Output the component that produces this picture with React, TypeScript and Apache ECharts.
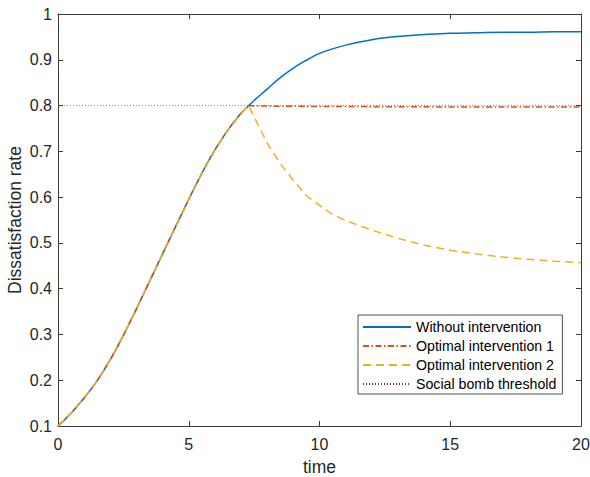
import React, { useEffect, useRef } from "react";
import * as echarts from "echarts";

// ---- data ----
const seriesNames = [
  "Without intervention",
  "Optimal intervention 1",
  "Optimal intervention 2",
  "Social bomb threshold",
];

// common rising part (all three curves coincide up to t≈7.3)
const riseT = [0, 0.5, 1, 1.5, 2, 2.5, 3, 3.5, 4, 4.5, 5, 5.5, 6, 6.5, 7, 7.3];
const riseV = [0.1, 0.128, 0.161, 0.199, 0.245, 0.298, 0.356, 0.416, 0.476, 0.536, 0.595, 0.652, 0.703, 0.747, 0.783, 0.8];

// without intervention, after t=7.3
const blueT = [7.5, 8, 8.5, 9, 9.5, 10, 11, 12, 13, 14, 15, 16, 17, 18, 19, 20];
const blueV = [0.811, 0.836, 0.861, 0.882, 0.899, 0.914, 0.932, 0.944, 0.951, 0.955, 0.958, 0.959, 0.96, 0.96, 0.961, 0.961];

// optimal intervention 1, after t=7.3
const redT = [7.5, 10, 15, 20];
const redV = [0.799, 0.798, 0.797, 0.797];

// optimal intervention 2, after t=7.3
const yellowT = [7.5, 8, 8.5, 9, 9.5, 10, 10.5, 11, 12, 13, 14, 15, 16, 17, 18, 19, 20];
const yellowV = [0.775, 0.718, 0.673, 0.637, 0.603, 0.582, 0.562, 0.549, 0.528, 0.51, 0.495, 0.484, 0.476, 0.469, 0.464, 0.46, 0.457];

// threshold
const thresholdT = [0, 20];
const thresholdV = [0.8, 0.8];

const xTicks = { min: 0, max: 20, interval: 5 };
const yTicks = { min: 0.1, max: 1, interval: 0.1 };

const pairs = (t: number[], v: number[]) => t.map((x, i) => [x, v[i]]);

const FONT = 'Arial, "Liberation Sans", Helvetica, sans-serif';
const TEXT = "#262626";
const AXIS = "#3a3a3a";

export default function App() {
  const ref = useRef<HTMLDivElement>(null);

  useEffect(() => {
    if (!ref.current) return;
    const chart = echarts.init(ref.current, undefined, { renderer: "svg" });

    const axisCommon = {
      type: "value" as const,
      axisLine: { show: true, onZero: false, lineStyle: { color: AXIS, width: 1 } },
      axisTick: { show: true, inside: true, length: 5, lineStyle: { color: AXIS, width: 1 } },
      splitLine: { show: false },
    };

    chart.setOption({
      animation: false,
      backgroundColor: "#ffffff",
      grid: {
        left: 58,
        top: 14,
        right: 9,
        bottom: 51,
        containLabel: false,
        outerBoundsMode: "none",
      },
      xAxis: [
        {
          ...axisCommon,
          ...xTicks,
          position: "bottom",
          name: "time",
          nameLocation: "middle",
          nameGap: 32,
          nameMoveOverlap: false,
          nameTextStyle: { color: TEXT, fontSize: 17.5, fontFamily: FONT },
          axisLabel: { color: TEXT, fontSize: 16, fontFamily: FONT, margin: 10 },
        },
        {
          ...axisCommon,
          ...xTicks,
          position: "top",
          axisLabel: { show: false },
        },
      ],
      yAxis: [
        {
          ...axisCommon,
          ...yTicks,
          position: "left",
          name: "Dissatisfaction rate",
          nameLocation: "middle",
          nameGap: 34,
          nameMoveOverlap: false,
          nameTextStyle: { color: TEXT, fontSize: 17.5, fontFamily: FONT },
          axisLabel: {
            color: TEXT,
            fontSize: 16,
            fontFamily: FONT,
            margin: 6,
            formatter: (v: number) => String(+v.toFixed(1)),
          },
        },
        {
          ...axisCommon,
          ...yTicks,
          position: "right",
          axisLabel: { show: false },
        },
      ],
      legend: {
        orient: "vertical",
        left: 358,
        top: 315,
        data: seriesNames,
        itemWidth: 48,
        itemHeight: 14,
        itemGap: 5,
        padding: [5, 6, 3, 4],
        borderColor: TEXT,
        borderWidth: 0.8,
        backgroundColor: "#ffffff",
        itemStyle: { color: "transparent", borderWidth: 0, opacity: 0 },
        textStyle: { color: "#000000", fontSize: 14.2, fontFamily: FONT, lineHeight: 14 },
      },
      series: [
        {
          name: seriesNames[0],
          type: "line",
          showSymbol: false,
          symbol: "none",
          smooth: 0.4,
          data: pairs([...riseT, ...blueT], [...riseV, ...blueV]),
          lineStyle: { color: "#0072BD", width: 1.5 },
          itemStyle: { color: "#0072BD" },
          z: 2,
        },
        {
          name: seriesNames[1],
          type: "line",
          showSymbol: false,
          symbol: "none",
          data: pairs([...riseT, ...redT], [...riseV, ...redV]),
          lineStyle: { color: "#D95319", width: 1.5, type: [6, 2.5, 1.5, 2.5] },
          itemStyle: { color: "#D95319" },
          z: 3,
        },
        {
          name: seriesNames[2],
          type: "line",
          showSymbol: false,
          symbol: "none",
          data: pairs([...riseT, ...yellowT], [...riseV, ...yellowV]),
          lineStyle: { color: "#EDB120", width: 1.5, type: [8, 5] },
          itemStyle: { color: "#EDB120" },
          z: 4,
        },
        {
          name: seriesNames[3],
          type: "line",
          showSymbol: false,
          symbol: "none",
          data: pairs(thresholdT, thresholdV),
          lineStyle: { color: "#7E2F8E", width: 0.7, type: [1, 2] },
          itemStyle: { color: "#7E2F8E" },
          z: 5,
        },
      ],
    });

    return () => chart.dispose();
  }, []);

  return <div ref={ref} style={{ width: 590, height: 477, position: "fixed", left: 0, top: 0 }} />;
}
